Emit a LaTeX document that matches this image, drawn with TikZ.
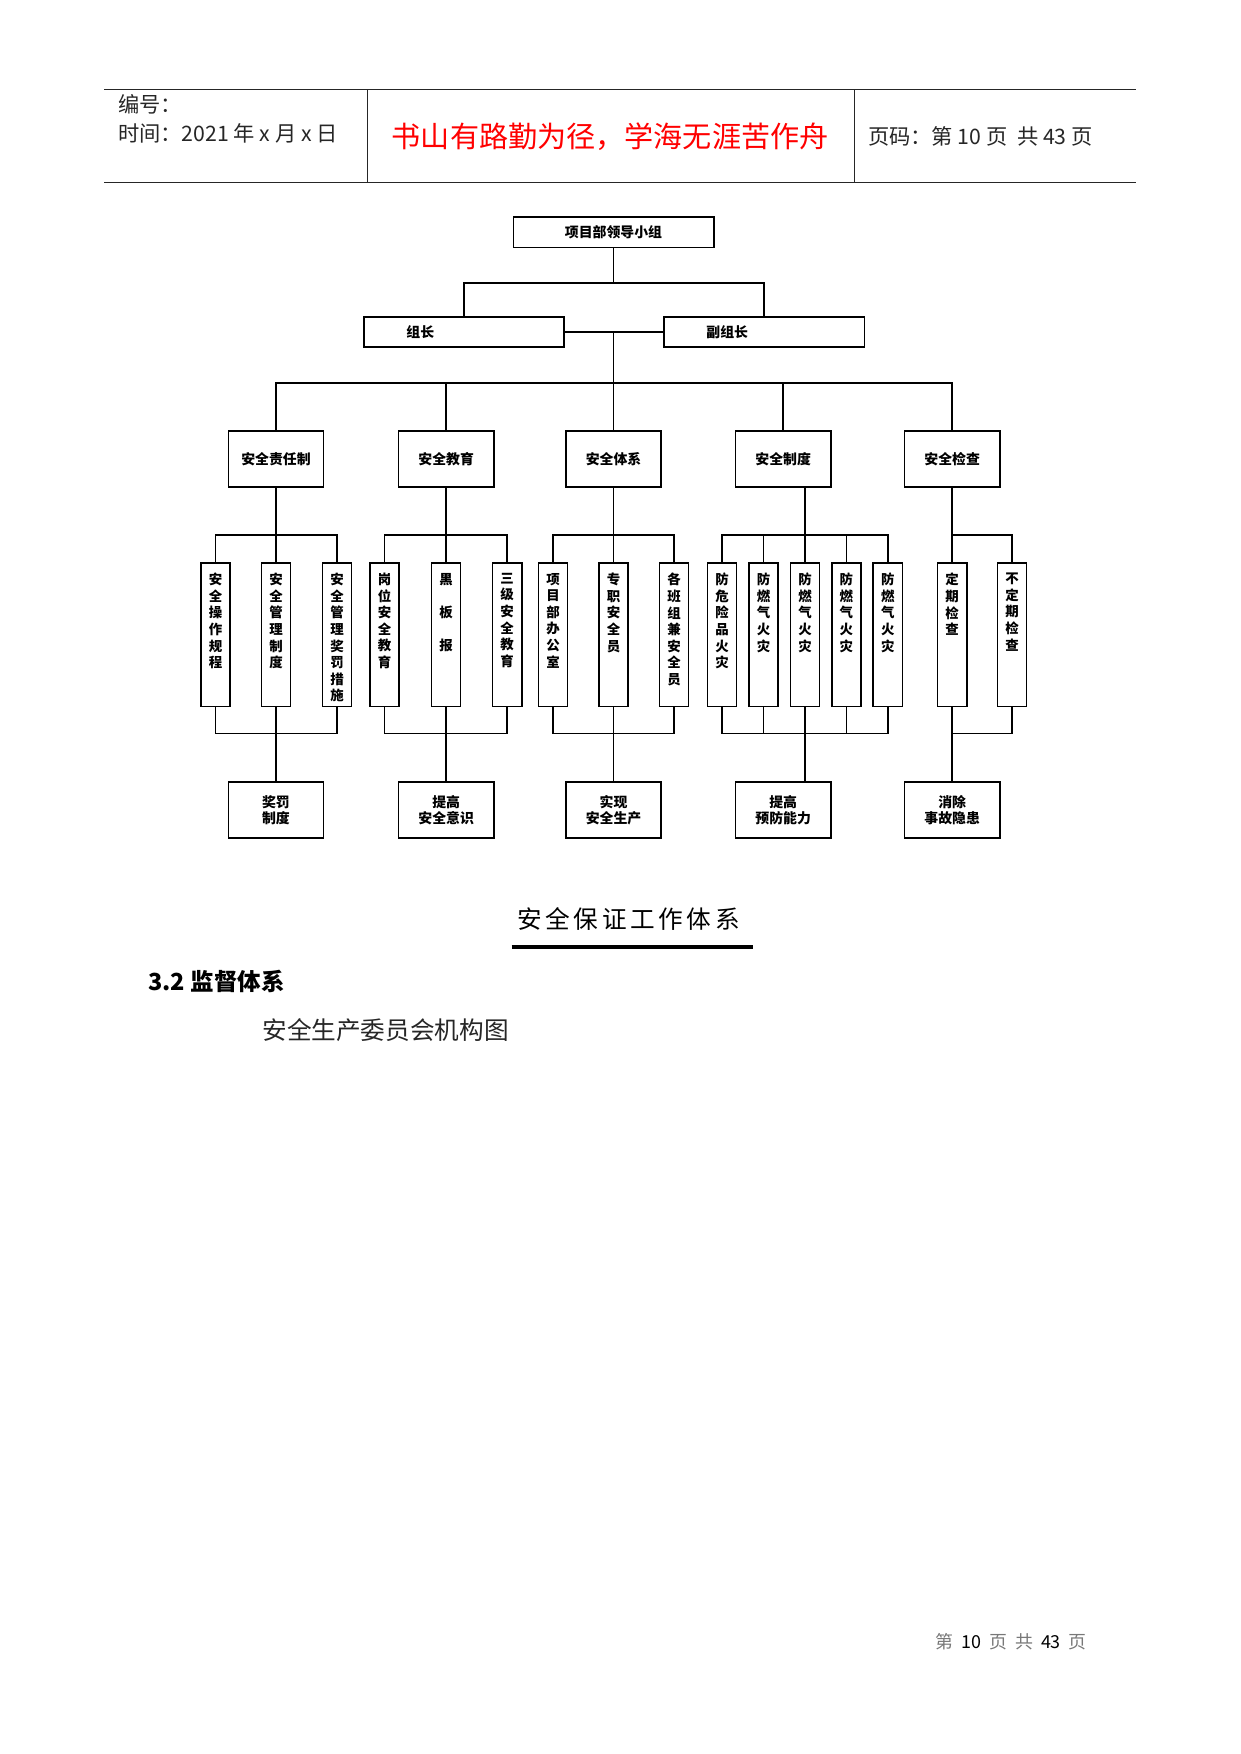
\documentclass[tikz,border=0pt]{standalone}
\usepackage{fontspec}
\setmainfont{Noto Sans CJK SC}
\usepackage{xcolor}
\definecolor{hdrred}{RGB}{255,0,0}
\definecolor{ftgray}{RGB}{120,120,120}
\newcommand\leaftext[1]{\parbox[c][60pt][t]{12pt}{\centering\vspace*{2.5pt}#1\par}}
\begin{document}
\begin{tikzpicture}[x=0.5pt,y=-0.5pt,
  box/.style={draw=black,line width=0.7pt,inner sep=0pt,font=\fontsize{6.2pt}{7pt}\selectfont\bfseries,align=center},
  wide/.style={box,minimum width=89.5pt,minimum height=13.5pt},
  widel/.style={box,text width=51.5pt,inner xsep=19pt,minimum height=13.5pt,align=left},
  lvbox/.style={box,minimum width=42.5pt,minimum height=25pt},
  leaf/.style={draw=black,line width=0.7pt,inner sep=0pt,minimum width=13pt,minimum height=64pt,font=\fontsize{6pt}{7.4pt}\selectfont\bfseries},
  conn/.style={draw=black,line width=0.7pt},
  hdrline/.style={draw=black!85,line width=0.6pt},
  hdr/.style={inner sep=0pt,font=\fontsize{9.5pt}{11pt}\selectfont,text=black!85}
]
\useasboundingbox (0,0) rectangle (1108.3,1566.7);

% ---------- header table ----------
\draw[hdrline] (93,80) -- (1015,80);
\draw[hdrline] (93,163) -- (1015,163);
\draw[hdrline] (328,80) -- (328,163);
\draw[hdrline] (763,80) -- (763,163);
\node[hdr,anchor=west] (bh) at (105,93) {编号：};
\node[hdr,anchor=west] (sj) at (105,119) {时间：2021 年 x 月 x 日};
\node[inner sep=0pt,font=\fontsize{13pt}{15pt}\selectfont,text=hdrred] (motto) at (545,122) {书山有路勤为径，学海无涯苦作舟};
\node[hdr,anchor=west] (ym) at (775,122) {页码：第 10 页\ \ 共 43 页};

% ---------- chart ----------
\node[wide] (t) at (548,207.5) {项目部领导小组};
\node[widel] (zz) at (414.5,296.5) {组长};
\node[widel] (fz) at (682.5,296.5) {副组长};

\node[lvbox] (a1) at (246.5,410) {安全责任制};
\node[lvbox] (a2) at (398.5,410) {安全教育};
\node[lvbox] (a3) at (548,410) {安全体系};
\node[lvbox] (a4) at (699.5,410) {安全制度};
\node[lvbox] (a5) at (850.5,410) {安全检查};

\node[leaf] (l11) at (192.5,567) {\leaftext{安\\全\\操\\作\\规\\程}};
\node[leaf] (l12) at (246.5,567) {\leaftext{安\\全\\管\\理\\制\\度}};
\node[leaf] (l13) at (301,567) {\leaftext{安\\全\\管\\理\\奖\\罚\\措\\施}};
\node[leaf] (l21) at (343.5,567) {\leaftext{岗\\位\\安\\全\\教\\育}};
\node[leaf] (l22) at (398.5,567) {\leaftext{黑\\[7.4pt]板\\[7.4pt]报}};
\node[leaf] (l23) at (453,567) {\leaftext{三\\级\\安\\全\\教\\育}};
\node[leaf] (l31) at (494,567) {\leaftext{项\\目\\部\\办\\公\\室}};
\node[leaf] (l32) at (548,567) {\leaftext{专\\职\\安\\全\\员}};
\node[leaf] (l33) at (602,567) {\leaftext{各\\班\\组\\兼\\安\\全\\员}};
\node[leaf] (l41) at (645,567) {\leaftext{防\\危\\险\\品\\火\\灾}};
\node[leaf] (l42) at (682,567) {\leaftext{防\\燃\\气\\火\\灾}};
\node[leaf] (l43) at (719,567) {\leaftext{防\\燃\\气\\火\\灾}};
\node[leaf] (l44) at (756,567) {\leaftext{防\\燃\\气\\火\\灾}};
\node[leaf] (l45) at (793,567) {\leaftext{防\\燃\\气\\火\\灾}};
\node[leaf] (l51) at (850.5,567) {\leaftext{定\\期\\检\\查}};
\node[leaf] (l52) at (904,567) {\leaftext{不\\定\\期\\检\\查}};

\node[lvbox] (b1) at (246.5,723.5) {奖罚\\制度};
\node[lvbox] (b2) at (398.5,723.5) {提高\\安全意识};
\node[lvbox] (b3) at (548,723.5) {实现\\安全生产};
\node[lvbox] (b4) at (699.5,723.5) {提高\\预防能力};
\node[lvbox] (b5) at (850.5,723.5) {消除\\事故隐患};

% junctions
\coordinate (j1) at (548,253);
\coordinate (j2) at (548,296.5);
\coordinate (j3) at (548,342);
\coordinate (g1) at (246.5,478);
\coordinate (g2) at (398.5,478);
\coordinate (g3) at (548,478);
\coordinate (g4) at (719,478);
\coordinate (g5) at (850.5,478);
\coordinate (h1) at (246.5,655);
\coordinate (h2) at (398.5,655);
\coordinate (h3) at (548,655);
\coordinate (h4) at (719,655);
\coordinate (h5) at (850.5,655);

% connectors top
\draw[conn] (t.south) -- (j1);
\draw[conn] (zz.north) |- (j1) -| (fz.north);
\draw[conn] (zz.east) -- (fz.west);
\draw[conn] (j2) -- (j3);
\draw[conn] (a1.north) |- (j3) -| (a5.north);
\draw[conn] (a2.north) -- (a2.north |- j3);
\draw[conn] (a3.north) -- (j3);
\draw[conn] (a4.north) -- (a4.north |- j3);

% group connectors (upper)
\draw[conn] (a1.south) -- (l12.north);
\draw[conn] (l11.north) |- (g1) -| (l13.north);
\draw[conn] (a2.south) -- (l22.north);
\draw[conn] (l21.north) |- (g2) -| (l23.north);
\draw[conn] (a3.south) -- (l32.north);
\draw[conn] (l31.north) |- (g3) -| (l33.north);
\draw[conn] (a4.south -| l43.north) -- (l43.north);
\draw[conn] (l41.north) |- (g4) -| (l45.north);
\draw[conn] (l42.north) -- (l42.north |- g4);
\draw[conn] (l44.north) -- (l44.north |- g4);
\draw[conn] (a5.south) -- (l51.north);
\draw[conn] (g5) -| (l52.north);

% group connectors (lower)
\draw[conn] (l12.south) -- (b1.north);
\draw[conn] (l11.south) |- (h1) -| (l13.south);
\draw[conn] (l22.south) -- (b2.north);
\draw[conn] (l21.south) |- (h2) -| (l23.south);
\draw[conn] (l32.south) -- (b3.north);
\draw[conn] (l31.south) |- (h3) -| (l33.south);
\draw[conn] (l43.south) -- (l43.south |- b4.north);
\draw[conn] (l41.south) |- (h4) -| (l45.south);
\draw[conn] (l42.south) -- (l42.south |- h4);
\draw[conn] (l44.south) -- (l44.south |- h4);
\draw[conn] (l51.south) -- (b5.north);
\draw[conn] (h5) -| (l52.south);

% ---------- caption and text ----------
\node[inner sep=0pt,font=\fontsize{11pt}{13pt}\selectfont] (cap) at (561.5,821)
  {安\hspace{1.6pt}全\hspace{1.6pt}保\hspace{1.6pt}证\hspace{1.6pt}工\hspace{1.6pt}作\hspace{1.6pt}体\hspace{1.6pt}系};
\draw[line width=1.5pt] (457,846) -- (673,846);
\node[anchor=west,inner sep=0pt,font=\fontsize{10.5pt}{12pt}\selectfont\bfseries] (h32) at (132,877) {3.2 监督体系};
\node[anchor=west,inner sep=0pt,font=\fontsize{11pt}{13pt}\selectfont,text=black!85] (wyh) at (234,920) {安全生产委员会机构图};
\node[anchor=west,inner sep=0pt,font=\fontsize{8pt}{10pt}\selectfont,text=ftgray] (ft) at (835,1466)
  {第\ \ \textcolor{black}{10}\ \ 页\ \ 共\ \ \textcolor{black}{43}\ \ 页};
\end{tikzpicture}
\end{document}
